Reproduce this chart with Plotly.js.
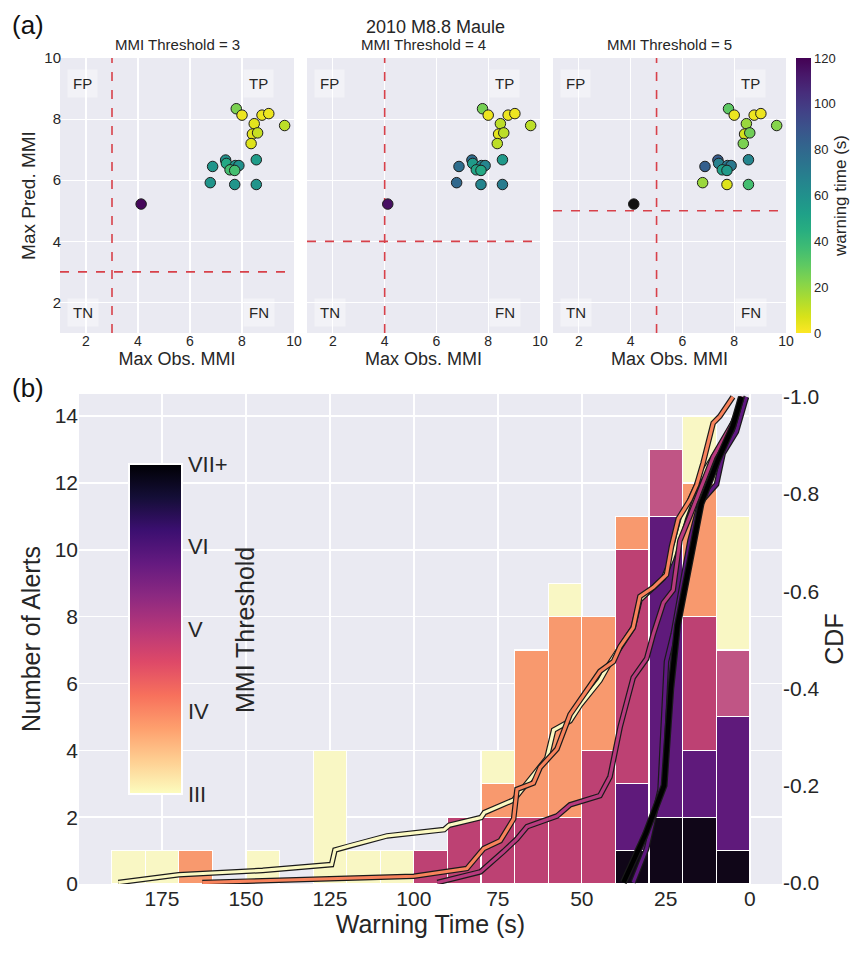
<!DOCTYPE html>
<html><head><meta charset="utf-8">
<script src="https://cdn.plot.ly/plotly-3.0.1.min.js"></script>
<style>html,body{margin:0;padding:0;background:#fff}#chart{width:858px;height:974px}</style>
</head><body><div id="chart"></div>
<script>
// ---------------- Panel (a) data ----------------
const thresholds = [3, 4, 5];
const panelTitles = ['MMI Threshold = 3', 'MMI Threshold = 4', 'MMI Threshold = 5'];
const obsMMI  = [4.12, 7.78, 8.00, 8.77, 9.03, 9.64, 8.47, 8.40, 8.60, 8.35, 8.55, 7.37, 7.40, 6.87, 7.74, 7.88, 7.54, 7.72, 6.78, 7.72, 8.55];
const predMMI = [5.22, 8.34, 8.13, 8.13, 8.18, 7.79, 7.85, 7.51, 7.55, 7.20, 6.67, 6.66, 6.55, 6.45, 6.48, 6.48, 6.34, 6.32, 5.92, 5.86, 5.86];
const warnT3  = [118, 24, 3, 3, 3, 12, 5, 5, 10, 6, 54, 60, 48, 58, 58, 60, 36, 36, 58, 58, 58];
const warnT4  = [115, 25, 3, 3, 3, 12, 12, 5, 12, 12, 56, 78, 55, 77, 66, 66, 50, 48, 80, 66, 70];
const warnT5  = [null, 30, 3, 3, 3, 22, 18, 8, 26, 24, 66, 86, 68, 84, 72, 72, 52, 55, 18, 6, 36];
const quadLabels = ['FP', 'TP', 'TN', 'FN'];

// ---------------- Panel (b) data ----------------
const binStart = [0, 10, 20, 30, 40, 50, 60, 70, 80, 90, 100, 110, 120, 130, 140, 150, 160, 170, 180];
const countVII = [1, 2, 2, 1, 0, 0, 0, 0, 0, 0, 0, 0, 0, 0, 0, 0, 0, 0, 0];
const countVI  = [4, 2, 9, 2, 0, 0, 0, 0, 0, 0, 0, 0, 0, 0, 0, 0, 0, 0, 0];
const countV   = [2, 4, 2, 7, 4, 2, 2, 2, 2, 1, 0, 0, 0, 0, 0, 0, 0, 0, 0];
const countIV  = [0, 4, 0, 1, 4, 6, 5, 1, 0, 0, 0, 0, 0, 0, 0, 0, 1, 0, 0];
const countIII = [4, 2, 0, 0, 0, 1, 0, 1, 0, 0, 1, 1, 4, 0, 1, 0, 0, 1, 1];
const levelNames = ['III', 'IV', 'V', 'VI', 'VII+'];
const levelValues = [3, 4, 5, 6, 7];
const cdfTicks = [0, 0.2, 0.4, 0.6, 0.8, 1.0];
const cdfTickText = ['-0.0', '-0.2', '-0.4', '-0.6', '-0.8', '-1.0'];

const cdfT_III = [188, 170, 145, 124.5, 123.5, 119.5, 108, 91, 89.5, 80, 79, 70.3, 66.3, 60.4, 58.4, 53.5, 50.5, 47.5, 44.6, 42, 38.6, 34.7, 32.7, 29.7, 25.7, 23.3, 21.8, 19.8, 17.8, 14.9, 10.9, 6.9, 4, 1];
const cdfP_III = [0, 0.016, 0.025, 0.037, 0.067, 0.075, 0.096, 0.109, 0.118, 0.134, 0.144, 0.17, 0.205, 0.256, 0.314, 0.333, 0.365, 0.39, 0.416, 0.448, 0.486, 0.525, 0.582, 0.602, 0.627, 0.666, 0.698, 0.749, 0.788, 0.832, 0.877, 0.92, 0.96, 1.0];
const cdfT_IV = [163, 100, 84.2, 79.2, 74.3, 70.3, 69.3, 64.4, 62.4, 57.4, 53.5, 48.5, 44.6, 40.6, 38.6, 34.7, 32.7, 28.7, 24.8, 23.3, 21.3, 17.8, 15.8, 13.9, 10.9, 8.9, 5];
const cdfP_IV = [0, 0.013, 0.029, 0.07, 0.086, 0.131, 0.192, 0.205, 0.237, 0.275, 0.346, 0.397, 0.435, 0.455, 0.486, 0.525, 0.589, 0.608, 0.634, 0.692, 0.749, 0.788, 0.819, 0.864, 0.946, 0.96, 1.0];
const cdfT_V = [93, 80.2, 73.3, 69.3, 66.3, 57.4, 53.5, 44.6, 41.6, 38.6, 34.7, 30.7, 28.7, 25.7, 22.8, 20.8, 17.8, 14.9, 10.9, 5, 2];
const cdfP_V = [0, 0.022, 0.064, 0.09, 0.115, 0.137, 0.16, 0.179, 0.218, 0.32, 0.422, 0.461, 0.512, 0.576, 0.602, 0.704, 0.755, 0.807, 0.877, 0.947, 1.0];
const cdfT_VI = [34.7, 30.7, 26.7, 24.8, 22.8, 20.8, 17.8, 14.9, 9.9, 7.9, 4, 1];
const cdfP_VI = [0, 0.07, 0.192, 0.455, 0.512, 0.589, 0.704, 0.781, 0.82, 0.884, 0.928, 1.0];
const cdfT_VII = [37.6, 31, 25.5, 23.5, 21.5, 19, 14.5, 9.5, 5, 2.5];
const cdfP_VII = [0, 0.1, 0.2, 0.4, 0.53, 0.62, 0.78, 0.87, 0.94, 1.0];

// ---------------- styles ----------------
const FONT = 'Liberation Sans, Arial, Helvetica, sans-serif';
const TXT = '#262626';
const BG = '#eaeaf2';
const barColIII = '#f9f7c4', barColIV = '#f8996e', barColV = '#bd4173', barColVlight = '#c05585', barColVI = '#5f1a7b', barColVII = '#100618';
const vShade = [barColVlight, barColV, barColVlight, barColV, barColV, barColV, barColV, barColV, barColV, barColV, barColV, barColV, barColV, barColV, barColV, barColV, barColV, barColV, barColV];
const magmaRev = [[0,'#fcfdbf'],[0.1,'#fecf92'],[0.2,'#fe9f6d'],[0.3,'#f7705c'],[0.4,'#de4968'],[0.5,'#b73779'],[0.6,'#8c2981'],[0.7,'#641a80'],[0.8,'#3b0f70'],[0.9,'#140e36'],[1,'#000004']];

const W = 858, H = 974;
const px = (a, b) => [a / W, b / W];
const py = (top, bot) => [1 - bot / H, 1 - top / H];
const aX = [px(60, 294), px(307, 540), px(553, 786)];
const aY = py(58, 333);
const bX = px(79, 782), bY = py(394, 884);

const traces = [];
const layout = {
  width: W, height: H, margin: {l: 0, r: 0, t: 0, b: 0},
  paper_bgcolor: '#fff', plot_bgcolor: BG,
  font: {family: FONT, color: TXT},
  showlegend: false, barmode: 'stack', bargap: 0,
  annotations: []
};
const ann = (o) => layout.annotations.push(Object.assign({xref: 'paper', yref: 'paper', showarrow: false,
  xanchor: 'center', yanchor: 'middle'}, o));

const warns = [warnT3, warnT4, warnT5];
for (let i = 0; i < 3; i++) {
  const xa = 'x' + (i + 1), ya = 'y' + (i + 1);
  const t = thresholds[i];
  const dl = {color: '#d8414a', width: 1.6, dash: 'dash'};
  // threshold lines
  traces.push({type: 'scatter', mode: 'lines', x: [t, t], y: [1, 10], xaxis: xa, yaxis: ya, line: dl, hoverinfo: 'skip'});
  traces.push({type: 'scatter', mode: 'lines', x: [1, 10], y: [t, t], xaxis: xa, yaxis: ya, line: dl, hoverinfo: 'skip'});
  const xs = [], ys = [], cs = [], nx = [], ny = [];
  for (let k = 0; k < obsMMI.length; k++) {
    if (warns[i][k] === null) { nx.push(obsMMI[k]); ny.push(predMMI[k]); }
    else { xs.push(obsMMI[k]); ys.push(predMMI[k]); cs.push(warns[i][k]); }
  }
  traces.push({type: 'scatter', mode: 'markers', x: xs, y: ys, xaxis: xa, yaxis: ya,
    marker: {size: 10.5, color: cs, cmin: 0, cmax: 120, colorscale: 'Viridis', reversescale: true,
      line: {color: '#1e1e1e', width: 1},
      showscale: i === 2,
      colorbar: {x: 796 / W, xanchor: 'left', y: 1 - 195.5 / H, yanchor: 'middle', len: 275 / H, lenmode: 'fraction',
        thickness: 15, outlinewidth: 0, xpad: 0, ypad: 0, tickvals: [0, 20, 40, 60, 80, 100, 120],
        tickfont: {size: 13, color: TXT}, ticks: '',
        title: {text: 'warning time (s)', side: 'right', font: {size: 17, color: TXT}}}}});
  if (nx.length) traces.push({type: 'scatter', mode: 'markers', x: nx, y: ny, xaxis: xa, yaxis: ya,
    marker: {size: 10.5, color: '#111', line: {color: '#1e1e1e', width: 1}}});
  const axBase = {showgrid: true, gridcolor: '#fff', gridwidth: 1.2, zeroline: false, showline: false, ticks: ''};
  layout['xaxis' + (i + 1)] = Object.assign({}, axBase, {domain: aX[i], anchor: ya, range: [1, 10], tickvals: [2, 4, 6, 8, 10],
    tickfont: {size: 14}, ticklabelstandoff: -2, title: {text: 'Max Obs. MMI', font: {size: 18}, standoff: 0}});
  layout['yaxis' + (i + 1)] = Object.assign({}, axBase, {domain: aY, anchor: xa, range: [1, 10], tickvals: [2, 4, 6, 8, 10],
    tickfont: {size: 15}, ticklabelstandoff: -2, showticklabels: i === 0,
    title: i === 0 ? {text: 'Max Pred. MMI', font: {size: 19}, standoff: 3} : {text: ''}});
  const qpos = [[0.097, 0.909], [0.849, 0.909], [0.097, 0.073], [0.849, 0.073]];
  quadLabels.forEach((q, j) => ann({text: q, xref: xa + ' domain', yref: ya + ' domain',
    x: qpos[j][0], y: qpos[j][1], font: {size: 15, color: TXT},
    bgcolor: 'rgba(255,255,255,0.4)', borderpad: 5}));
  ann({text: panelTitles[i], x: (aX[i][0] + aX[i][1]) / 2, y: 1 - 44 / H, font: {size: 15, color: TXT}});
}
ann({text: '2010 M8.8 Maule', x: 435 / W, y: 1 - 27 / H, font: {size: 18, color: TXT}});
ann({text: '(a)', x: 10 / W, y: 1 - 25 / H, xanchor: 'left', font: {size: 26, color: '#111'}});
ann({text: '(b)', x: 10 / W, y: 1 - 388 / H, xanchor: 'left', font: {size: 26, color: '#111'}});

// ---------------- Panel (b) ----------------
const centers = binStart.map(s => s + 5);
const nz = arr => arr.map(v => v === 0 ? null : v);
const stackSeries = [
  [countVII, barColVII], [countVI, barColVI], [countV, vShade], [countIV, barColIV], [countIII, barColIII]
];
stackSeries.forEach(([cnt, col]) => traces.push({type: 'bar', x: centers, y: nz(cnt), width: 10,
  xaxis: 'x4', yaxis: 'y4', marker: {color: col, line: {color: '#fff', width: 1.2}}, hoverinfo: 'skip'}));

const cdfs = [
  [cdfT_III, cdfP_III, '#fbf9c2', 3.2],
  [cdfT_IV, cdfP_IV, '#f8835c', 3.2],
  [cdfT_V, cdfP_V, '#b83a7e', 3.2],
  [cdfT_VI, cdfP_VI, '#5f1880', 3.2],
  [cdfT_VII, cdfP_VII, '#000000', 4.5]
];
cdfs.forEach(([t, p, c, w]) => {
  traces.push({type: 'scatter', mode: 'lines', x: t, y: p, xaxis: 'x4', yaxis: 'y5', line: {color: '#1a1a1a', width: w + 2.4}, hoverinfo: 'skip'});
  traces.push({type: 'scatter', mode: 'lines', x: t, y: p, xaxis: 'x4', yaxis: 'y5', line: {color: c, width: w}, hoverinfo: 'skip'});
});

// MMI threshold colour bar (legend of panel b)
traces.push({type: 'scatter', mode: 'markers', x: [-50, -50], y: [-5, -5], xaxis: 'x4', yaxis: 'y4', hoverinfo: 'skip',
  marker: {color: [3, 7], cmin: 3, cmax: 7, colorscale: magmaRev, showscale: true, opacity: 0,
    colorbar: {x: 129 / W, xanchor: 'left', y: 1 - 629 / H, yanchor: 'middle', len: 330 / H, lenmode: 'fraction',
      thickness: 53, outlinewidth: 2, outlinecolor: '#fff', xpad: 0, ypad: 0, ticks: '',
      tickvals: levelValues, ticktext: levelNames, tickfont: {size: 22, color: TXT},
      title: {text: ''}}}});
ann({text: 'MMI Threshold', x: 245 / W, y: 1 - 630 / H, textangle: -90, font: {size: 25, color: TXT}});

layout.xaxis4 = {domain: bX, anchor: 'y4', range: [199.7, -9.6], tickvals: [175, 150, 125, 100, 75, 50, 25, 0],
  showgrid: true, gridcolor: '#fff', gridwidth: 1.5, zeroline: false, showline: false, ticks: '',
  tickfont: {size: 21}, title: {text: 'Warning Time (s)', font: {size: 25}, standoff: 4}};
layout.yaxis4 = {domain: bY, anchor: 'x4', range: [0, 14.66], tickvals: [0, 2, 4, 6, 8, 10, 12, 14],
  showgrid: true, gridcolor: '#fff', gridwidth: 1.5, zeroline: false, showline: false, ticks: '',
  tickfont: {size: 21}, title: {text: 'Number of Alerts', font: {size: 25}, standoff: 6}};
layout.yaxis5 = {overlaying: 'y4', side: 'right', anchor: 'x4', range: [-0.003, 1.006], tickvals: cdfTicks,
  ticktext: cdfTickText, showgrid: false, zeroline: false, showline: false, ticks: '', ticklabelstandoff: 0,
  tickfont: {size: 21}, title: {text: 'CDF', font: {size: 25}, standoff: 6}};

Plotly.newPlot('chart', traces, layout, {staticPlot: true});
</script></body></html>
